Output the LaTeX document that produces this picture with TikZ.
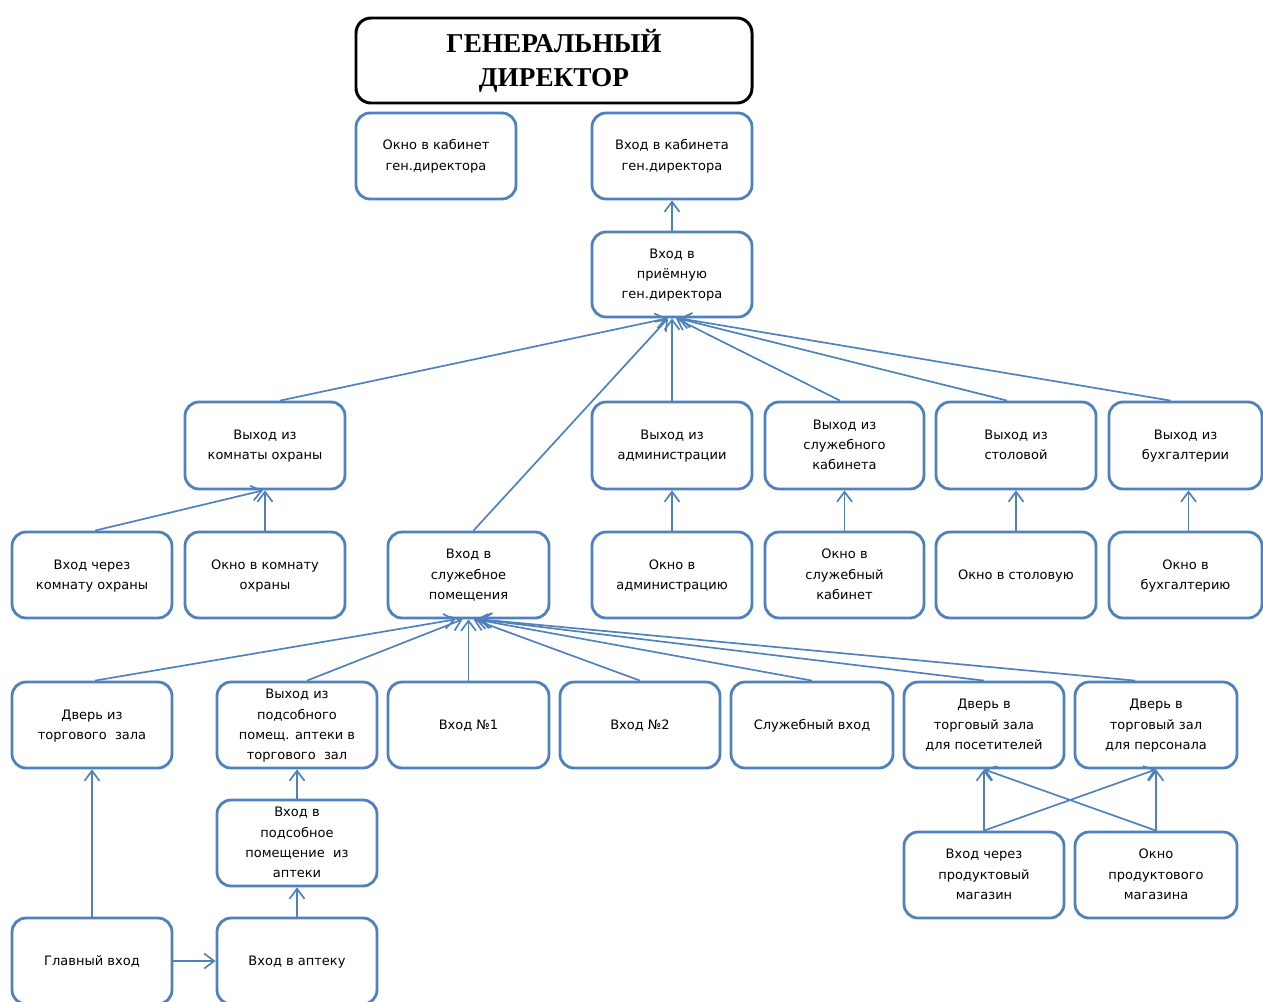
\documentclass[tikz,border=0pt]{standalone}
\usepackage{fontspec}
\setmainfont{Liberation Serif}
\newfontfamily\boxfont{DejaVu Sans}
\usetikzlibrary{arrows.meta}
\definecolor{boxblue}{HTML}{4F81BD}

% room box given by its corners in pixel units: name, x1, y1, x2, y2, text
\newcommand\roomnode[6]{%
  \node[room, minimum width={(#4-#2)*0.02cm}, minimum height={(#5-#3)*0.02cm}]
    (#1) at ({(#2+#4)/2},{(#3+#5)/2}) {\raisebox{-0.05cm}{\begin{tabular}{@{}c@{}}#6\end{tabular}}};}

\begin{document}
\begin{tikzpicture}[x=0.02cm,y=-0.02cm,
  room/.style={draw=boxblue, line width=1.6pt, rounded corners=0.28cm, fill=white,
    align=center, inner sep=0pt, font=\boxfont\fontsize{7.4}{11.4}\selectfont},
  chief/.style={draw=black, line width=1.7pt, rounded corners=0.3cm, fill=white,
    align=center, inner sep=0pt, font=\fontsize{15.5}{19.3}\selectfont\bfseries},
  link/.style={draw=boxblue, line width=0.95pt},
  tip/.style={link, -{Straight Barb[length=0.2cm,width=0.3cm]}}
]
\useasboundingbox (0,0) rectangle (1263,1001);
\fill[white] (0,0) rectangle (1263,1001);
\clip (0,0) rectangle (1263,1001);

% head of the scheme
\node[chief, minimum width=396*0.02cm, minimum height=85*0.02cm] (gen) at (554,60.5)
  {ГЕНЕРАЛЬНЫЙ\\ДИРЕКТОР};

% director's office
\roomnode{okgen}{356}{113}{516}{199}{Окно в кабинет\\ген.директора}
\roomnode{vhgen}{592}{113}{752}{199}{Вход в кабинета\\ген.директора}
\roomnode{priem}{592}{232}{752}{317}{Вход в\\приёмную\\ген.директора}

% exits towards the reception
\roomnode{ohr}{185}{402}{345}{489}{Выход из\\комнаты охраны}
\roomnode{adm}{592}{402}{752}{489}{Выход из\\администрации}
\roomnode{kab}{765}{402}{924}{489}{Выход из\\служебного\\кабинета}
\roomnode{stol}{936}{402}{1096}{489}{Выход из\\столовой}
\roomnode{buh}{1109}{402}{1262}{489}{Выход из\\бухгалтерии}

% windows and entries
\roomnode{vhohr}{12}{532}{172}{618}{Вход через\\комнату охраны}
\roomnode{okohr}{185}{532}{345}{618}{Окно в комнату\\охраны}
\roomnode{sluzh}{388}{532}{549}{618}{Вход в\\служебное\\помещения}
\roomnode{okadm}{592}{532}{752}{618}{Окно в\\администрацию}
\roomnode{okkab}{765}{532}{924}{618}{Окно в\\служебный\\кабинет}
\roomnode{okstol}{936}{532}{1096}{618}{Окно в столовую}
\roomnode{okbuh}{1109}{532}{1262}{618}{Окно в\\бухгалтерию}

% doors into the service area
\roomnode{dvtz}{12}{682}{172}{768}{Дверь из\\торгового~~зала}
\roomnode{vyhpod}{217}{682}{377}{768}{Выход из\\подсобного\\помещ. аптеки в\\торгового~~зал}
\roomnode{vh1}{388}{682}{549}{768}{Вход №1}
\roomnode{vh2}{560}{682}{720}{768}{Вход №2}
\roomnode{slvh}{731}{682}{893}{768}{Служебный вход}
\roomnode{dvpos}{904}{682}{1064}{768}{Дверь в\\торговый зала\\для посетителей}
\roomnode{dvpers}{1075}{682}{1237}{768}{Дверь в\\торговый зал\\для персонала}

% lower level
\roomnode{podsob}{217}{800}{377}{886}{Вход в\\подсобное\\помещение~~из\\аптеки}
\roomnode{vhprod}{904}{832}{1064}{918}{Вход через\\продуктовый\\магазин}
\roomnode{okprod}{1075}{832}{1237}{918}{Окно\\продуктового\\магазина}
\roomnode{glav}{12}{918}{172}{1004}{Главный вход}
\roomnode{apt}{217}{918}{377}{1004}{Вход в аптеку}

% connectors: reception
\draw[tip] (priem.north) -- (vhgen.south);
\draw[tip] ([xshift=0.3cm]ohr.north) -- ([xshift=-0.1cm]priem.south);
\draw[tip] ([xshift=0.1cm]sluzh.north) -- ([xshift=-0.08cm]priem.south);
\draw[tip] (adm.north) -- (priem.south);
\draw[tip] ([xshift=-0.09cm]kab.north) -- ([xshift=0.08cm]priem.south);
\draw[tip] ([xshift=-0.18cm]stol.north) -- ([xshift=0.12cm]priem.south);
\draw[tip] ([xshift=-0.3cm]buh.north) -- ([xshift=0.16cm]priem.south);

% connectors: windows to exits
\draw[tip] ([xshift=0.06cm]vhohr.north) -- ([xshift=-0.04cm]ohr.south);
\draw[tip] (okohr.north) -- (ohr.south);
\draw[tip] (okadm.north) -- (adm.south);
\draw[tip] (okkab.north) -- (kab.south);
\draw[tip] (okstol.north) -- (stol.south);
\draw[tip] ([xshift=0.06cm]okbuh.north) -- ([xshift=0.06cm]buh.south);

% connectors: into the service premises
\draw[tip] ([xshift=0.06cm]dvtz.north) -- ([xshift=-0.26cm]sluzh.south);
\draw[tip] ([xshift=0.2cm]vyhpod.north) -- ([xshift=-0.12cm]sluzh.south);
\draw[tip] (vh1.north) -- (sluzh.south);
\draw[tip] (vh2.north) -- ([xshift=0.1cm]sluzh.south);
\draw[tip] (slvh.north) -- ([xshift=0.14cm]sluzh.south);
\draw[tip] (dvpos.north) -- ([xshift=0.2cm]sluzh.south);
\draw[tip] ([xshift=-0.42cm]dvpers.north) -- ([xshift=0.24cm]sluzh.south);

% connectors: shop and pharmacy
\draw[tip] (vhprod.north) -- (dvpos.south);
\draw[tip] (vhprod.north) -- (dvpers.south);
\draw[tip] (okprod.north) -- (dvpers.south);
\draw[tip] (okprod.north) -- (dvpos.south);
\draw[tip] (podsob.north) -- (vyhpod.south);
\draw[tip] (apt.north) -- (podsob.south);
\draw[tip] (glav.north) -- (dvtz.south);
\draw[tip] (glav.east) -- (apt.west);
\end{tikzpicture}
\end{document}
